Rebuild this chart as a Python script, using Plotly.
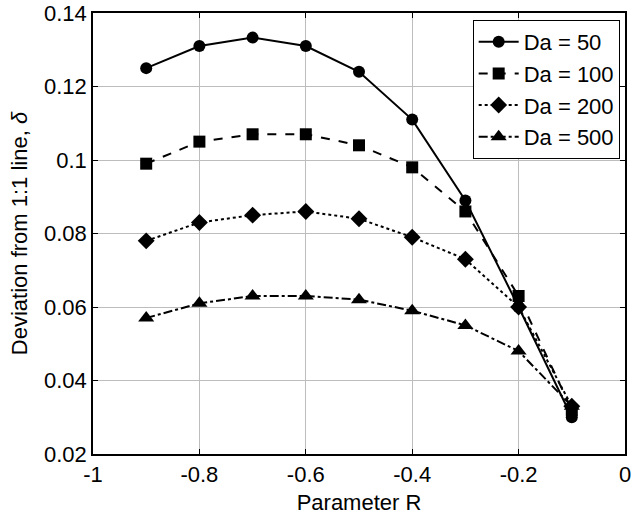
import plotly.graph_objects as go

R = [-0.9, -0.8, -0.7, -0.6, -0.5, -0.4, -0.3, -0.2, -0.1]
da50 = [0.125, 0.131, 0.1333, 0.131, 0.124, 0.111, 0.089, 0.060, 0.030]
da100 = [0.099, 0.105, 0.107, 0.107, 0.104, 0.098, 0.086, 0.063, 0.032]
da200 = [0.078, 0.083, 0.085, 0.086, 0.084, 0.079, 0.073, 0.060, 0.033]
da500 = [0.057, 0.061, 0.063, 0.063, 0.062, 0.059, 0.055, 0.048, 0.033]
names = ["Da = 50", "Da = 100", "Da = 200", "Da = 500"]

xticks = [-1, -0.8, -0.6, -0.4, -0.2, 0]
xticktext = ["-1", "-0.8", "-0.6", "-0.4", "-0.2", "0"]
yticks = [0.02, 0.04, 0.06, 0.08, 0.1, 0.12, 0.14]
yticktext = ["0.02", "0.04", "0.06", "0.08", "0.1", "0.12", "0.14"]

series = [da50, da100, da200, da500]
dashes = ["solid", "dash", "dot", "dashdot"]
symbols = ["circle", "square", "diamond", "triangle-up"]
sizes = [12, 12, 13, 14]

fig = go.Figure()
for vals, name, d, s, sz in zip(series, names, dashes, symbols, sizes):
    fig.add_trace(go.Scatter(
        x=R, y=vals, name=name, mode="lines+markers",
        line=dict(color="black", width=2, dash=d),
        marker=dict(symbol=s, size=sz, color="black"),
    ))

axis_common = dict(
    showgrid=True, gridcolor="#bdbdbd", gridwidth=1,
    showline=True, linecolor="black", linewidth=1.5, mirror="ticks",
    ticks="inside", ticklen=5, tickcolor="black",
    zeroline=False, tickfont=dict(size=22, color="black"),
    automargin=False,
)

fig.update_layout(
    width=633, height=517,
    margin=dict(l=93, r=8, t=13, b=63, autoexpand=False),
    plot_bgcolor="white", paper_bgcolor="white",
    font=dict(family="Liberation Sans, Arial", color="black", size=22),
    xaxis=dict(range=[-1, 0], tickvals=xticks, ticktext=xticktext,
               title=dict(text="Parameter R", font=dict(size=22), standoff=8), **axis_common),
    yaxis=dict(range=[0.02, 0.14], tickvals=yticks, ticktext=yticktext,
               title=dict(text="Deviation from 1:1 line, <i>δ</i>", font=dict(size=22), standoff=10), **axis_common),
    legend=dict(x=0.99, y=0.984, xanchor="right", yanchor="top",
                bordercolor="black", borderwidth=1, bgcolor="white",
                font=dict(size=22), tracegroupgap=0, itemwidth=40),
    showlegend=True,
)

fig.write_html("out.html")
